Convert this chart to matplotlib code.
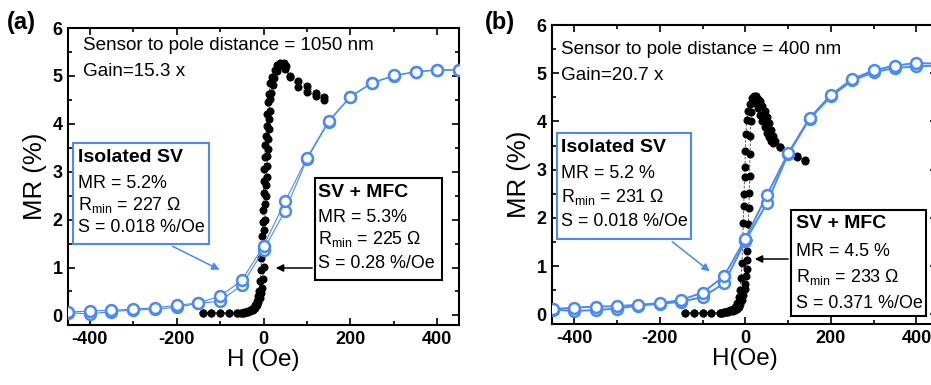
import matplotlib
matplotlib.use("Agg")
import matplotlib.pyplot as plt
from matplotlib.patches import Rectangle

plt.rcParams['font.family'] = ['Liberation Sans', 'DejaVu Sans']
plt.rcParams['mathtext.fontset'] = 'custom'
plt.rcParams['mathtext.rm'] = 'Liberation Sans'
plt.rcParams['mathtext.it'] = 'Liberation Sans:italic'
plt.rcParams['axes.unicode_minus'] = False

# ---- data: isolated spin valve (open blue circles), two sweep branches ----
iso_H = [-450, -400, -350, -300, -250, -200, -150, -100, -50, 0, 50, 100, 150, 200, 250, 300, 350, 400, 450]

a_iso_up = [0.06, 0.03, 0.08, 0.11, 0.13, 0.17, 0.25, 0.30, 0.63, 1.36, 2.19, 3.26, 4.04, 4.56, 4.85, 5.00, 5.08, 5.12, 5.12]
a_iso_dn = [0.07, 0.09, 0.11, 0.13, 0.16, 0.21, 0.26, 0.40, 0.73, 1.45, 2.38, 3.29, 4.06, 4.57, 4.86, 5.01, 5.09, 5.13, 5.13]

b_iso_up = [0.10, 0.07, 0.09, 0.12, 0.18, 0.22, 0.26, 0.36, 0.64, 1.52, 2.30, 3.32, 4.05, 4.52, 4.85, 5.02, 5.11, 5.14, 5.16]
b_iso_dn = [0.11, 0.14, 0.16, 0.17, 0.20, 0.23, 0.30, 0.45, 0.79, 1.57, 2.47, 3.34, 4.07, 4.55, 4.88, 5.06, 5.16, 5.21, 5.20]

# ---- data: SV + MFC (filled black dots), two sweep branches ----
a_mfc_up_H = [-140, -120, -100, -80, -60, -50, -45, -40, -35, -30, -25, -20, -16, -12, -9, -6, -4, -2, 0, 1,
              2, 3, 4, 5, 6, 7, 8, 9, 10, 11, 12, 13, 14, 16, 18, 21, 25, 30, 36, 42, 47, 52, 60, 80, 100, 120, 140]
a_mfc_up = [0.05, 0.05, 0.05, 0.05, 0.05, 0.06, 0.06, 0.07, 0.08, 0.10, 0.12, 0.16, 0.21, 0.28, 0.36, 0.46, 0.58, 0.75, 1.02, 1.41,
            1.79, 2.00, 2.33, 2.49, 2.73, 2.90, 3.11, 3.32, 3.47, 3.68, 3.89, 4.10, 4.27, 4.51, 4.65, 4.81, 4.95, 5.10, 5.20, 5.24,
            5.26, 5.20, 4.98, 4.90, 4.79, 4.65, 4.57]

a_mfc_dn_H = [140, 120, 100, 80, 60, 50, 44, 38, 32, 26, 20, 16, 13, 11, 9, 7, 5, 4, 3, 2,
              1, 0, -1, -2, -3, -4, -5, -6, -8, -10, -13, -16, -20, -25, -30, -35, -40, -45, -50, -55,
              -60, -80, -100, -120, -140]
a_mfc_dn = [4.50, 4.58, 4.67, 4.76, 5.00, 5.15, 5.24, 5.27, 5.22, 5.12, 4.98, 4.85, 4.62, 4.45, 4.20, 3.95, 3.75, 3.55, 3.30, 3.05,
            2.80, 2.55, 2.20, 1.95, 1.65, 1.42, 1.20, 0.95, 0.72, 0.52, 0.40, 0.30, 0.22, 0.16, 0.12, 0.10, 0.08, 0.07, 0.06, 0.06,
            0.05, 0.05, 0.05, 0.05, 0.05]

b_mfc_up_H = [-140, -120, -100, -80, -60, -55, -50, -45, -40, -35, -30, -25, -20, -16, -12, -8, -5, -2, 0, 2,
              3, 4, 5, 6, 7, 8, 9, 10, 11, 12, 13, 14, 16, 20, 25, 30, 35, 40, 45, 50, 55, 60, 65, 80, 100, 120, 140]
b_mfc_up = [0.03, 0.03, 0.03, 0.03, 0.03, 0.03, 0.04, 0.04, 0.05, 0.06, 0.07, 0.09, 0.12, 0.16, 0.22, 0.30, 0.40, 0.52, 0.62, 0.79,
            0.95, 1.12, 1.31, 1.55, 1.87, 2.20, 2.52, 2.86, 3.32, 3.70, 4.01, 4.20, 4.38, 4.50, 4.40, 4.27, 4.13, 4.00, 3.88, 3.77,
            3.67, 3.60, 3.55, 3.48, 3.38, 3.28, 3.20]

b_mfc_dn_H = [140, 120, 100, 80, 70, 65, 60, 55, 50, 45, 40, 35, 30, 25, 20, 15, 10, 6, 3, 1,
              0, -1, -2, -3, -4, -5, -6, -8, -10, -13, -16, -20, -25, -30, -35, -40, -45, -50, -55, -60,
              -80, -100, -120, -140]
b_mfc_dn = [3.18, 3.26, 3.36, 3.46, 3.60, 3.70, 3.83, 3.97, 4.10, 4.22, 4.33, 4.42, 4.47, 4.52, 4.52, 4.48, 4.36, 4.22, 4.03, 3.73,
            3.39, 3.05, 2.84, 2.50, 2.25, 1.90, 1.56, 1.07, 0.76, 0.50, 0.35, 0.24, 0.16, 0.11, 0.08, 0.06, 0.05, 0.04, 0.03, 0.03,
            0.03, 0.03, 0.03, 0.03]

BLUE = '#4a8af4'
W, Hpx = 931, 385


def fp(x, y):
    # pixel position (from top-left) -> figure fraction
    return (x / W, 1 - y / Hpx)


fig = plt.figure(figsize=(W / 100, Hpx / 100), dpi=100)

ax_a = fig.add_axes([68 / W, 60 / Hpx, 391 / W, 297 / Hpx])
ax_b = fig.add_axes([552 / W, 61 / Hpx, 385 / W, 299 / Hpx])

panels = [
    (ax_a, a_iso_up, a_iso_dn, a_mfc_up_H, a_mfc_up, a_mfc_dn_H, a_mfc_dn, 0.8, "H (Oe)", (-450, 450)),
    (ax_b, b_iso_up, b_iso_dn, b_mfc_up_H, b_mfc_up, b_mfc_dn_H, b_mfc_dn, 1.4, "H(Oe)", (-452, 448)),
]

for ax, iu, idn, muH, mu, mdH, md, lw, xl, xlim in panels:
    ax.plot(mdH, md, color='#444444', lw=0.6, ls=(0, (3, 2)), zorder=2)
    ax.plot(muH, mu, color='#444444', lw=0.6, ls=(0, (3, 2)), zorder=2)
    ax.plot(mdH, md, 'o', color='black', ms=5.8, mew=0, zorder=3)
    ax.plot(muH, mu, 'o', color='black', ms=5.8, mew=0, zorder=3)
    for ys in (iu, idn):
        ax.plot(iso_H, ys, '-', color=BLUE, lw=lw, zorder=4)
        ax.plot(iso_H, ys, 'o', mfc='white', mec=BLUE, ms=7.8, mew=1.8, zorder=5)
    ax.set_xlim(*xlim)
    ax.set_ylim(-0.2, 6)
    ax.set_xticks([-400, -200, 0, 200, 400])
    ax.set_xticks([-300, -100, 100, 300], minor=True)
    ax.set_yticks([0, 1, 2, 3, 4, 5, 6])
    ax.set_yticks([0.5, 1.5, 2.5, 3.5, 4.5, 5.5], minor=True)
    ax.tick_params(which='both', direction='in', top=True, right=True, width=1.2, labelsize=13, pad=4)
    ax.tick_params(which='major', length=5)
    ax.tick_params(which='minor', length=3)
    for lbl in ax.get_xticklabels() + ax.get_yticklabels():
        lbl.set_fontweight('bold')
    for sp in ax.spines.values():
        sp.set_linewidth(1.5)
    ax.set_xlabel(xl, fontsize=17.5, labelpad=1)
    ax.set_ylabel("MR (%)", fontsize=18.5, labelpad=4)

# panel letters and headers
fig.text(*fp(7, 22), "(a)", fontsize=17, fontweight='bold', va='center')
fig.text(*fp(485, 22), "(b)", fontsize=17, fontweight='bold', va='center')
fig.text(*fp(83, 45), "Sensor to pole distance = 1050 nm", fontsize=13.6, va='center')
fig.text(*fp(83, 72), "Gain=15.3 x", fontsize=13.6, va='center')
fig.text(*fp(561, 49), "Sensor to pole distance = 400 nm", fontsize=13.6, va='center')
fig.text(*fp(561, 75), "Gain=20.7 x", fontsize=13.6, va='center')


def box(x0, y0, x1, y1, color):
    fig.patches.append(Rectangle(fp(x0, y1), (x1 - x0) / W, (y1 - y0) / Hpx,
                                 transform=fig.transFigure, fill=True, facecolor='white',
                                 edgecolor=color, lw=1.5, zorder=6))


def lines(x, ys, texts):
    for (y, t, bold) in zip(ys, texts, [True, False, False, False]):
        fig.text(*fp(x, y), t, fontsize=14 if bold else 12.9, fontweight='bold' if bold else 'normal',
                 va='center', zorder=7)


def arrow(start, end, color):
    fig.add_artist(plt.Annotation('', xy=fp(*end), xytext=fp(*start), xycoords='figure fraction',
                                  textcoords='figure fraction',
                                  arrowprops=dict(arrowstyle='-|>', color=color, lw=1.1, mutation_scale=11)))


# panel (a) boxes
box(73, 143, 209, 244, BLUE)
lines(78, [157, 183, 205, 228], ["Isolated SV", "MR = 5.2%", r"R$_{\mathrm{min}}$ = 227 $\Omega$", "S = 0.018 %/Oe"])
arrow((170, 245), (222, 271), BLUE)
box(315, 178, 442, 280, 'black')
lines(318, [193, 217, 239, 263], ["SV + MFC", "MR = 5.3%", r"R$_{\mathrm{min}}$ = 225 $\Omega$", "S = 0.28 %/Oe"])
arrow((315, 268), (273, 268), 'black')

# panel (b) boxes
box(557, 133, 691, 239, BLUE)
lines(561, [147, 173, 197, 221], ["Isolated SV", "MR = 5.2 %", r"R$_{\mathrm{min}}$ = 231 $\Omega$", "S = 0.018 %/Oe"])
arrow((670, 240), (712, 273), BLUE)
box(791, 210, 926, 316, 'black')
lines(796, [223, 251, 277, 303], ["SV + MFC", "MR = 4.5 %", r"R$_{\mathrm{min}}$ = 233 $\Omega$", "S = 0.371 %/Oe"])
arrow((791, 259), (752, 259), 'black')

fig.savefig("out.png", dpi=100)
